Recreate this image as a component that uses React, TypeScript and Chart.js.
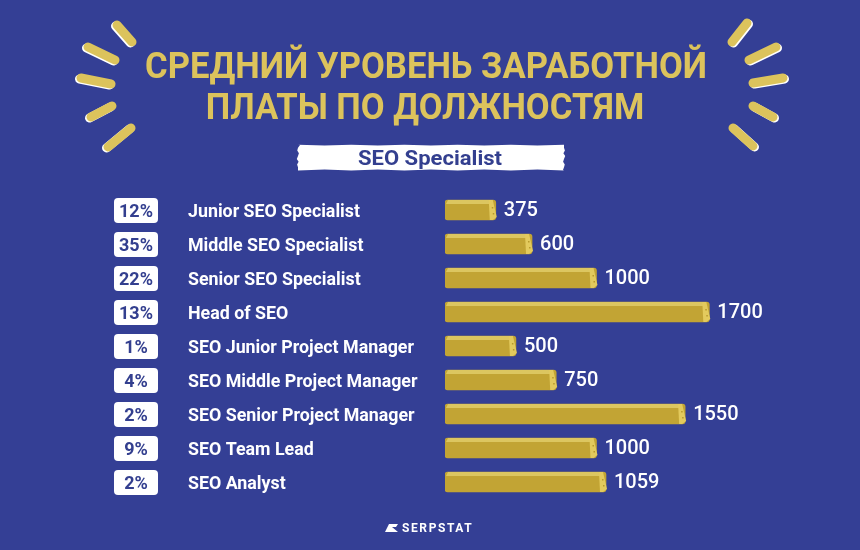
import React, { useEffect, useRef } from "react";
import { Chart, registerables } from "chart.js";

Chart.register(...registerables);

const titleLines = ["СРЕДНИЙ УРОВЕНЬ ЗАРАБОТНОЙ", "ПЛАТЫ ПО ДОЛЖНОСТЯМ"];
const subtitle = "SEO Specialist";
const positions = [
  "Junior SEO Specialist",
  "Middle SEO Specialist",
  "Senior SEO Specialist",
  "Head of SEO",
  "SEO Junior Project Manager",
  "SEO Middle Project Manager",
  "SEO Senior Project Manager",
  "SEO Team Lead",
  "SEO Analyst",
];
const salaries = [375, 600, 1000, 1700, 500, 750, 1550, 1000, 1059];
const shares = ["12%", "35%", "22%", "13%", "1%", "4%", "2%", "9%", "2%"];
const brand = "SERPSTAT";

const BG = "#343f95";
const GOLD = "#dcc35c";
const BAR = "#c2a434";
const BAR_LIGHT = "#dcc660";
const NAVY = "#333f8f";

// ray segments (decorative)
const raysLeft = [
  [117, 25, 132, 42],
  [88, 47, 115, 60],
  [81, 78, 111, 84],
  [91, 117, 112, 106],
  [108, 147, 131, 128],
];
const raysRight = [
  [732, 42, 747, 23],
  [749, 60, 776, 47],
  [753, 83, 783, 78],
  [753, 106, 773, 117],
  [733, 128, 753, 146],
];

function drawScaled(
  ctx: CanvasRenderingContext2D,
  text: string,
  x: number,
  y: number,
  sx: number,
  align: CanvasTextAlign
) {
  ctx.save();
  ctx.translate(x, y);
  ctx.scale(sx, 1);
  ctx.textAlign = align;
  ctx.fillText(text, 0, 0);
  ctx.restore();
}

function ragged(ctx: CanvasRenderingContext2D, x0: number, y0: number, x1: number, y1: number, amp: number) {
  const h = y1 - y0;
  const offs = [0, 0.6, -0.4, 0.8, 0, -0.6, 0.5, 0];
  ctx.beginPath();
  ctx.moveTo(x0 + 2, y0);
  for (let i = 0; i <= 10; i++) {
    ctx.lineTo(x0 + ((x1 - x0) * i) / 10, y0 + (i % 2 ? 0.6 : -0.3));
  }
  offs.forEach((o, i) => ctx.lineTo(x1 + o * amp, y0 + (h * (i + 1)) / (offs.length + 1)));
  ctx.lineTo(x1 - 1, y1);
  for (let i = 10; i >= 0; i--) {
    ctx.lineTo(x0 + ((x1 - x0) * i) / 10, y1 + (i % 2 ? -0.5 : 0.4));
  }
  offs.forEach((o, i) => ctx.lineTo(x0 - o * amp, y1 - (h * (i + 1)) / (offs.length + 1)));
  ctx.closePath();
  ctx.fill();
}

function roundRect(ctx: CanvasRenderingContext2D, x: number, y: number, w: number, h: number, r: number) {
  ctx.beginPath();
  ctx.moveTo(x + r, y);
  ctx.lineTo(x + w - r, y);
  ctx.quadraticCurveTo(x + w, y, x + w, y + r);
  ctx.lineTo(x + w, y + h - r);
  ctx.quadraticCurveTo(x + w, y + h, x + w - r, y + h);
  ctx.lineTo(x + r, y + h);
  ctx.quadraticCurveTo(x, y + h, x, y + h - r);
  ctx.lineTo(x, y + r);
  ctx.quadraticCurveTo(x, y, x + r, y);
  ctx.closePath();
  ctx.fill();
}

const decorPlugin = {
  id: "decor",
  beforeDraw(chart: any) {
    const ctx: CanvasRenderingContext2D = chart.ctx;
    ctx.save();
    ctx.fillStyle = BG;
    ctx.fillRect(0, 0, chart.width, chart.height);

    // rays
    const drawRay = (r: number[], side: number) => {
      ctx.lineCap = "round";
      ctx.lineWidth = 9;
      ctx.strokeStyle = "#ffffff";
      ctx.beginPath();
      ctx.moveTo(r[0] - 1.5 * side, r[1] + 1);
      ctx.lineTo(r[2] - 1.5 * side, r[3] + 1);
      ctx.stroke();
      ctx.strokeStyle = GOLD;
      ctx.beginPath();
      ctx.moveTo(r[0], r[1]);
      ctx.lineTo(r[2], r[3]);
      ctx.stroke();
    };
    raysLeft.forEach((r) => drawRay(r, 1));
    raysRight.forEach((r) => drawRay(r, -1));

    // title
    ctx.fillStyle = GOLD;
    ctx.textBaseline = "alphabetic";
    ctx.font = "bold 37px Roboto";
    const w1 = ctx.measureText(titleLines[0]).width;
    const tsx = 562 / w1;
    drawScaled(ctx, titleLines[0], 426, 78, tsx, "center");
    drawScaled(ctx, titleLines[1], 425, 119, tsx, "center");

    // subtitle banner
    ctx.fillStyle = "#ffffff";
    ragged(ctx, 298, 145, 564, 170, 1.5);
    ctx.fillStyle = NAVY;
    ctx.font = "bold 20px Roboto";
    const ws = ctx.measureText(subtitle).width;
    drawScaled(ctx, subtitle, 430, 165, 144 / ws, "center");

    // brand
    ctx.fillStyle = "#ffffff";
    ctx.beginPath();
    ctx.moveTo(385, 532);
    ctx.lineTo(389, 524);
    ctx.lineTo(398, 524);
    ctx.lineTo(396, 527);
    ctx.lineTo(392, 527);
    ctx.lineTo(398, 532);
    ctx.closePath();
    ctx.fill();
    ctx.font = "bold 12px Roboto";
    (ctx as any).letterSpacing = "1.6px";
    ctx.textAlign = "left";
    ctx.fillText(brand, 402, 532);
    (ctx as any).letterSpacing = "0px";
    ctx.restore();
  },
  afterDatasetsDraw(chart: any) {
    const ctx: CanvasRenderingContext2D = chart.ctx;
    const meta = chart.getDatasetMeta(0);
    ctx.save();
    ctx.font = "bold 19px Roboto";
    const lsx = 172 / ctx.measureText(positions[0]).width;
    meta.data.forEach((bar: any, i: number) => {
      const y = bar.y;
      const top = y - bar.height / 2;
      const bottom = y + bar.height / 2;
      const x = bar.x;
      const base = bar.base;
      // top highlight
      ctx.fillStyle = BAR_LIGHT;
      ctx.beginPath();
      ctx.moveTo(base + 1, top + 4);
      ctx.lineTo(base + 3, top);
      ctx.lineTo(x - 6, top);
      ctx.lineTo(x - 6, top + 4);
      ctx.closePath();
      ctx.fill();
      // end cap
      ctx.fillStyle = "#e3ca5d";
      ctx.beginPath();
      ctx.moveTo(x - 7, top);
      ctx.lineTo(x - 3, top);
      ctx.lineTo(x + 1, bottom - 3);
      ctx.lineTo(x - 3, bottom);
      ctx.lineTo(x - 6, bottom);
      ctx.closePath();
      ctx.fill();
      ctx.fillStyle = "#b89a2c";
      ctx.fillRect(x - 4, y - 3, 1.5, 1.5);
      ctx.fillRect(x - 3, y + 3, 1.5, 1.5);

      // value
      ctx.fillStyle = "#ffffff";
      ctx.font = "500 20px Roboto";
      ctx.textAlign = "left";
      ctx.textBaseline = "middle";
      ctx.fillText(String(salaries[i]), x + 8, y + 1);

      // label
      ctx.font = "bold 19px Roboto";
      ctx.textBaseline = "alphabetic";
      drawScaled(ctx, positions[i], 188, y + 7, lsx, "left");

      // badge
      ctx.fillStyle = "#ffffff";
      roundRect(ctx, 114, y - 12, 44, 25, 4);
      ctx.fillStyle = NAVY;
      ctx.font = "bold 18px Roboto";
      ctx.textAlign = "center";
      ctx.fillText(shares[i], 136, y + 7);
    });
    ctx.restore();
  },
};

export default function App() {
  const ref = useRef<HTMLCanvasElement | null>(null);
  useEffect(() => {
    if (!ref.current) return;
    const chart = new Chart(ref.current, {
      type: "bar",
      data: {
        labels: positions,
        datasets: [
          {
            data: salaries,
            base: 60,
            backgroundColor: BAR,
            borderRadius: 3,
            borderSkipped: false,
            barThickness: 20,
          },
        ],
      },
      options: {
        indexAxis: "y",
        responsive: false,
        animation: false,
        layout: { padding: { left: 445, right: 54, top: 193, bottom: 51 } },
        scales: {
          x: { display: false, min: 60, max: 2300 },
          y: { display: false },
        },
        plugins: { legend: { display: false }, tooltip: { enabled: false } },
      },
      plugins: [decorPlugin],
    } as any);
    return () => chart.destroy();
  }, []);
  return (
    <div style={{ position: "fixed", left: 0, top: 0, width: 860, height: 550 }}>
      <canvas ref={ref} width={860} height={550} />
    </div>
  );
}
